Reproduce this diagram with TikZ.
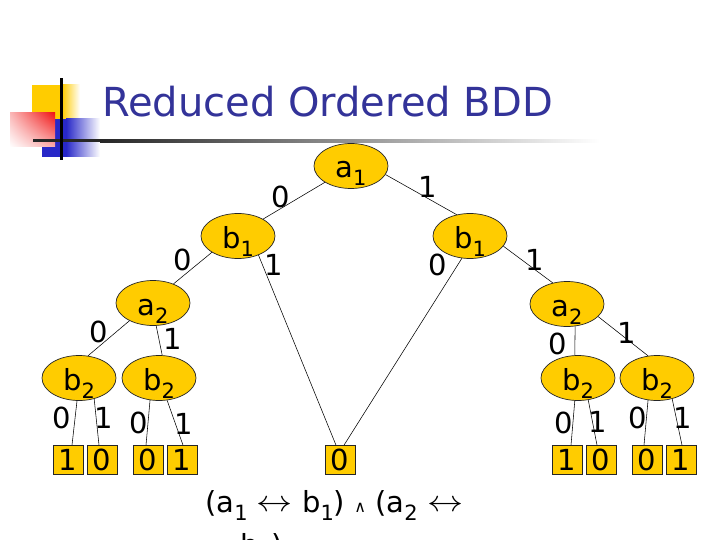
\documentclass[tikz,border=0pt]{standalone}
\usepackage{fontspec}
\setmainfont{DejaVu Sans}
\usetikzlibrary{shapes.geometric,shadings}
\definecolor{gold}{RGB}{255,204,0}
\definecolor{titleblue}{RGB}{51,51,153}
\definecolor{decoblue}{RGB}{40,40,200}
\definecolor{decoyellow}{RGB}{255,204,0}
\definecolor{decored}{RGB}{240,20,20}
\newcommand\lblfont{\fontsize{29}{34}\selectfont}
\newcommand\mysub[1]{\raisebox{-8pt}{\fontsize{21}{24}\selectfont #1}}
\newcommand\myarrow{\raisebox{1pt}{\scalebox{1.45}[1.2]{$\leftrightarrow$}}}
\tikzset{
  bnode/.style={ellipse, draw=black!85, line width=0.7pt, fill=gold,
    minimum width=74pt, minimum height=45pt, inner sep=0pt,
    text height=24pt, text depth=0pt, font=\lblfont},
  term/.style={rectangle, draw=black!85, line width=0.7pt, fill=gold,
    minimum width=30pt, minimum height=29pt, inner sep=0pt, font=\lblfont},
  elbl/.style={inner sep=0pt, font=\lblfont},
  edge/.style={draw=black, line width=0.55pt},
}
\begin{document}
\begin{tikzpicture}[x=1pt,y=-1pt]
\useasboundingbox (0,0) rectangle (720,540);
\fill[white] (0,0) rectangle (720,540);
% decoration
\fill[decoyellow] (32,85) rectangle (62,120);
\shade[left color=decoyellow, right color=white] (62,85) rectangle (80,120);
\fill[decoblue] (42,119) rectangle (66,157);
\shade[left color=decoblue, right color=white] (66,119) rectangle (100,157);
\shade[upper left=decored!30, upper right=decored, lower left=white, lower right=decored!35] (10,113) rectangle (55,147);
\fill[black!85] (33,139.5) rectangle (100,142.5);
\shade[left color=black!85, right color=white] (100,139.5) rectangle (600,142.5);
\fill[black] (59.5,78) rectangle (62.5,160);
% title
\node[anchor=base west, inner sep=0pt, text=titleblue, font=\fontsize{40}{44}\selectfont] (title) at (102,117) {Reduced Ordered BDD};
% nodes
\node[bnode] (a1) at (351,166) {a\mysub{1}\hspace{15pt}};
\node[bnode] (b1l) at (238,236) {b\mysub{1}};
\node[bnode] (b1r) at (470,236) {b\mysub{1}};
\node[bnode] (a2l) at (153,303) {a\mysub{2}};
\node[bnode] (a2r) at (567,304) {a\mysub{2}};
\node[bnode] (ba) at (79,378) {b\mysub{2}};
\node[bnode] (bb) at (159,378) {b\mysub{2}};
\node[bnode] (bc) at (578,378) {b\mysub{2}};
\node[bnode] (bd) at (657,378) {b\mysub{2}};
\node[term] (t1) at (68,460) {1};
\node[term] (t2) at (102,460) {0};
\node[term] (t3) at (148,460) {0};
\node[term] (t4) at (182,460) {1};
\node[term] (t0) at (340,460) {0};
\node[term] (t5) at (567,460) {1};
\node[term] (t6) at (601,460) {0};
\node[term] (t7) at (647,460) {0};
\node[term] (t8) at (681,460) {1};
% edges
\draw[edge] (a1.212) -- (b1l.34);
\draw[edge] (a1.346) -- (b1r.122);
\draw[edge] (b1l.212) -- (a2l.43);
\draw[edge] (b1l.317) -- ([xshift=-4pt]t0.north);
\draw[edge] (b1r.250) -- ([xshift=4pt]t0.north);
\draw[edge] (b1r.343) -- (a2r.124);
\draw[edge] (a2l.217) -- (ba.68);
\draw[edge] (a2l.278) -- (bb.82);
\draw[edge] (a2r.290) -- (bc.98);
\draw[edge] (a2r.338) -- (bd.112);
\draw[edge] (ba.265) -- ([xshift=4pt]t1.north);
\draw[edge] (ba.306) -- ([xshift=-3pt]t2.north);
\draw[edge] (bb.248) -- ([xshift=-2pt]t3.north);
\draw[edge] (bb.290) -- ([xshift=1pt]t4.north);
\draw[edge] (bc.262) -- ([xshift=4pt]t5.north);
\draw[edge] (bc.295) -- ([xshift=-4pt]t6.north);
\draw[edge] (bd.248) -- ([xshift=-3pt]t7.north);
\draw[edge] (bd.306) -- ([xshift=1pt]t8.north);
% edge labels
\node[elbl] (l1) at (281,197) {0};
\node[elbl] (l2) at (428,187) {1};
\node[elbl] (l3) at (183,260) {0};
\node[elbl] (l4) at (274,265) {1};
\node[elbl] (l5) at (438,265) {0};
\node[elbl] (l6) at (535,260) {1};
\node[elbl] (l7) at (99,332) {0};
\node[elbl] (l8) at (173,339) {1};
\node[elbl] (l9) at (558,344) {0};
\node[elbl] (l10) at (627,333) {1};
\node[elbl] (l11) at (62,418) {0};
\node[elbl] (l12) at (104,418) {1};
\node[elbl] (l13) at (139,423) {0};
\node[elbl] (l14) at (184,424) {1};
\node[elbl] (l15) at (564,423) {0};
\node[elbl] (l16) at (598,422) {1};
\node[elbl] (l17) at (638,418) {0};
\node[elbl] (l18) at (683,418) {1};
% formula
\node[anchor=base west, inner sep=0pt, font=\lblfont] (f1) at (205,512)
  {(a\mysub{1} \myarrow{} b\mysub{1}) {\fontsize{16}{18}\selectfont ∧} (a\mysub{2} \myarrow};
\node[anchor=base west, inner sep=0pt, font=\lblfont] (f2) at (240,555)
  {b\mysub{2})};
\end{tikzpicture}
\end{document}
